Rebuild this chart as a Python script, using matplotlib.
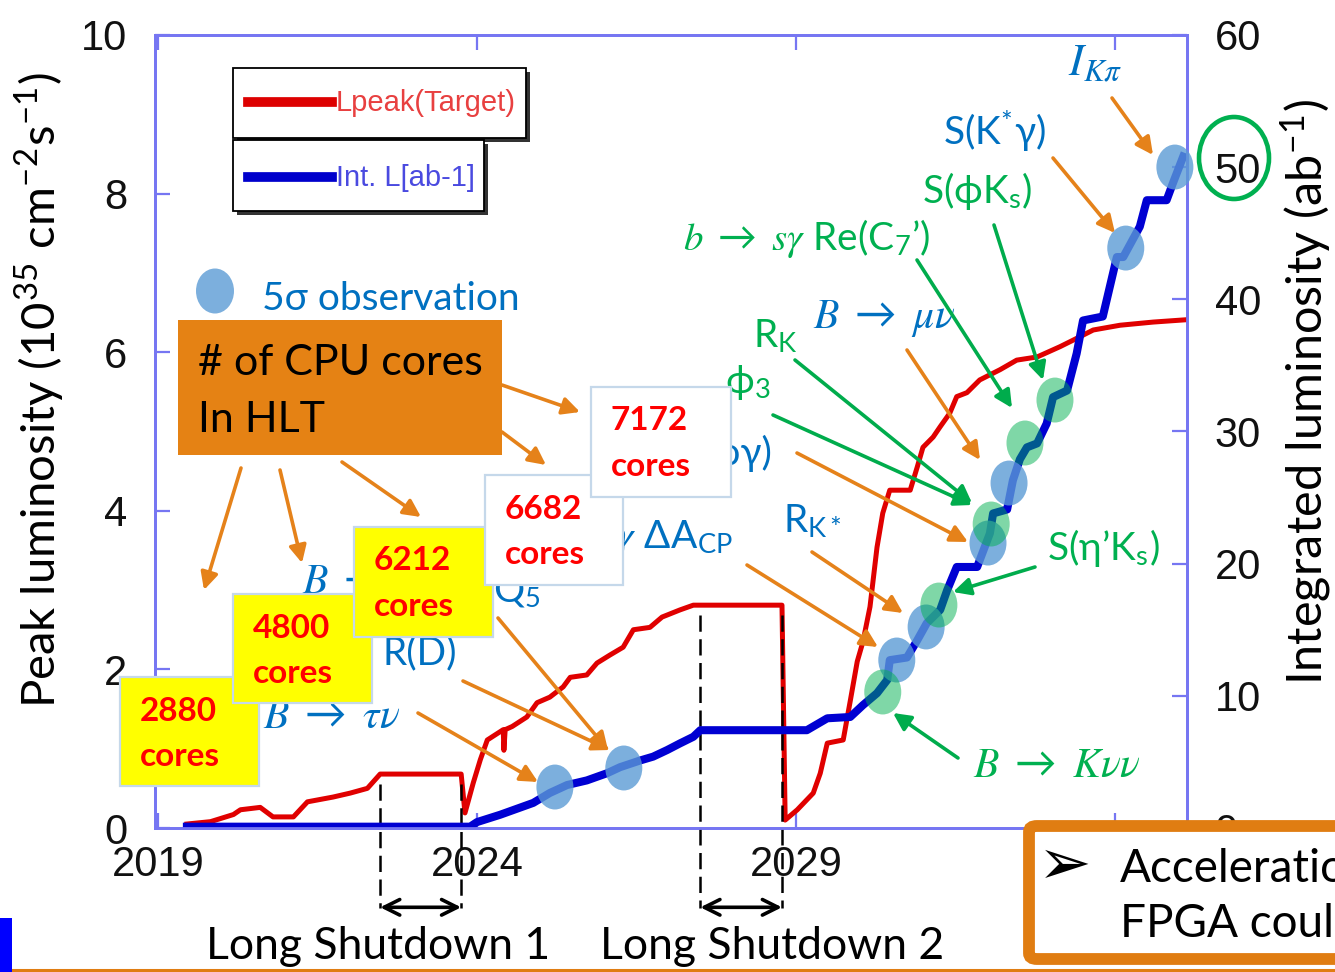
import numpy as np
import matplotlib
matplotlib.use("Agg")
import matplotlib.pyplot as plt
from matplotlib import font_manager
from matplotlib.lines import Line2D
from matplotlib.patches import Rectangle, Ellipse, FancyBboxPatch, FancyArrowPatch

# Peak luminosity target (10^35 cm^-2 s^-1)
peak_year = [2019.45, 2019.82, 2020.18, 2020.29, 2020.60, 2020.80, 2021.12, 2021.34, 2021.74,
             2022.01, 2022.28, 2022.48, 2023.75, 2023.81, 2023.94, 2024.05, 2024.16, 2024.41,
             2024.42, 2024.44, 2024.55, 2024.78, 2024.94, 2025.14, 2025.35, 2025.46, 2025.72,
             2025.88, 2026.08, 2026.29, 2026.45, 2026.71, 2026.90, 2027.18, 2027.39, 2028.78,
             2028.83, 2029.02, 2029.27, 2029.38, 2029.49, 2029.74, 2029.85, 2029.96, 2030.05,
             2030.16, 2030.27, 2030.36, 2030.47, 2030.79, 2030.90, 2030.99, 2031.15, 2031.26,
             2031.41, 2031.52, 2031.68, 2031.88, 2032.20, 2032.46, 2032.78, 2033.14, 2033.34,
             2033.66, 2034.08, 2034.60, 2035.13]
peak_lumi = [0.05, 0.08, 0.17, 0.23, 0.26, 0.14, 0.14, 0.33, 0.39,
             0.44, 0.50, 0.68, 0.68, 0.19, 0.57, 0.86, 1.11, 1.24,
             0.98, 1.24, 1.28, 1.40, 1.58, 1.65, 1.78, 1.90, 1.93,
             2.08, 2.18, 2.28, 2.50, 2.53, 2.66, 2.75, 2.81, 2.81,
             0.10, 0.23, 0.44, 0.69, 1.07, 1.11, 1.60, 2.10, 2.35,
             2.79, 3.54, 3.97, 4.26, 4.26, 4.55, 4.80, 4.93, 5.06,
             5.23, 5.44, 5.49, 5.65, 5.78, 5.90, 5.94, 6.07, 6.15,
             6.28, 6.34, 6.38, 6.41]

# Integrated luminosity (ab^-1)
int_year = [2019.45, 2023.89, 2024.00, 2024.36, 2024.88, 2025.14, 2025.41, 2025.72, 2026.04,
            2026.24, 2026.55, 2026.76, 2026.98, 2027.18, 2027.39, 2027.50, 2029.17, 2029.49,
            2029.85, 2030.05, 2030.27, 2030.43, 2030.47, 2030.74, 2030.90, 2031.05, 2031.26,
            2031.37, 2031.52, 2031.84, 2032.04, 2032.09, 2032.31, 2032.40, 2032.51, 2032.62,
            2032.78, 2032.93, 2033.03, 2033.25, 2033.40, 2033.50, 2033.81, 2034.03, 2034.13,
            2034.39, 2034.50, 2034.81, 2034.91, 2035.07]
int_lumi = [0.1, 0.1, 0.45, 1.0, 1.9, 2.65, 3.25, 3.6, 4.15,
            4.6, 5.1, 5.4, 5.9, 6.4, 6.9, 7.4, 7.4, 8.3,
            8.4, 9.3, 10.2, 11.2, 12.7, 12.9, 14.2, 15.5, 16.5,
            18.0, 19.75, 19.75, 22.3, 23.8, 24.1, 26.3, 27.9, 28.8,
            29.1, 30.6, 32.6, 33.1, 35.9, 38.4, 38.7, 43.2, 43.2,
            45.5, 47.5, 47.5, 48.8, 50.8]

# 5 sigma observations on the integrated luminosity curve
obs_blue_year = [2025.22, 2026.30, 2030.58, 2031.04, 2032.01, 2032.34, 2034.17, 2034.94]
obs_blue_lumi = [3.10, 4.54, 12.71, 15.21, 21.56, 26.10, 43.88, 50.01]
obs_green_year = [2030.36, 2031.24, 2032.06, 2032.59, 2033.06]
obs_green_lumi = [10.29, 16.87, 23.0, 29.13, 32.38]

cpu_cores = [2880, 4800, 6212, 6682, 7172]
year_ticks = [2019, 2024, 2029, 2034]
shutdowns = [(2022.48, 2023.75), (2027.50, 2028.78)]
shutdown_names = ["Long Shutdown 1", "Long Shutdown 2"]

W, H = 1335, 972
ORANGE = "#e5821a"
BLUE_T = "#0070c0"
GREEN_T = "#00b050"
FRAME = "#7676f2"

plt.rcParams["font.family"] = ["Lato", "DejaVu Sans"]
plt.rcParams["mathtext.fontset"] = "custom"
plt.rcParams["mathtext.rm"] = "Lato"
plt.rcParams["mathtext.it"] = "STIXGeneral:italic"
plt.rcParams["mathtext.bf"] = "Lato:bold"
plt.rcParams["mathtext.fallback"] = "stix"

names = {f.name for f in font_manager.fontManager.ttflist}
if "Liberation Sans Narrow" in names:
    tick_font, tick_size, leg_size = "Liberation Sans Narrow", 34, 23
else:
    tick_font, tick_size, leg_size = "Liberation Sans", 30, 21


def fp(x, y):
    return (x / W, 1 - y / H)


fig = plt.figure(figsize=(W / 100, H / 100), dpi=100)


def ftext(x, y, s, **kw):
    return fig.text(x / W, 1 - y / H, s, **kw)


def farrow(x0, y0, x1, y1, color, z=40):
    fig.add_artist(FancyArrowPatch(fp(x0, y0), fp(x1, y1), transform=fig.transFigure,
                                   arrowstyle="-|>", mutation_scale=26, lw=2.6,
                                   color=color, shrinkA=0, shrinkB=0, zorder=z))


def frect(l, t, r, b, **kw):
    p = Rectangle(fp(l, b), (r - l) / W, (b - t) / H, transform=fig.transFigure, **kw)
    fig.add_artist(p)
    return p


ax = fig.add_axes([155 / W, 1 - 828 / H, (1187 - 155) / W, (828 - 35) / H])
ax2 = ax.twinx()

ax.plot(peak_year, peak_lumi, color="#e00000", lw=3.6, zorder=3)
ax2.plot(int_year, int_lumi, color="#0000d2", lw=5.8, zorder=2)

for x, y in zip(obs_blue_year, obs_blue_lumi):
    ax2.add_patch(Ellipse((x, y), 0.58, 3.4, fc="#5b9bd5", ec="none", alpha=0.8,
                          zorder=3, clip_on=False))
for x, y in zip(obs_green_year, obs_green_lumi):
    ax2.add_patch(Ellipse((x, y), 0.58, 3.4, fc="#00b050", ec="none", alpha=0.5,
                          zorder=4, clip_on=False))

ax.set_xlim(2018.95, 2035.13)
ax.set_ylim(0, 10)
ax2.set_ylim(0, 60)
ax.set_xticks(year_ticks)
ax.set_yticks(range(0, 11, 2))
ax2.set_yticks(range(0, 61, 10))

for a in (ax, ax2):
    for s in a.spines.values():
        s.set_color(FRAME)
        s.set_linewidth(2)
ax.tick_params(axis="x", direction="in", top=True, length=11, width=1.6, color=FRAME,
               labelsize=tick_size, pad=12)
ax.tick_params(axis="y", direction="in", length=11, width=1.6, color=FRAME,
               labelsize=tick_size, pad=20)
ax2.tick_params(axis="y", direction="in", length=11, width=1.6, color=FRAME,
                labelsize=tick_size, pad=20)
for lbl in ax.get_xticklabels() + ax.get_yticklabels() + ax2.get_yticklabels():
    lbl.set_fontfamily(tick_font)
    lbl.set_color("#111111")

# long shutdown markers below the axis
for (x0, x1), name, lx in zip(shutdowns, shutdown_names, [378, 772]):
    for x in (x0, x1):
        top = np.interp(x, peak_year, peak_lumi) - 0.12
        ax.plot([x, x], [top, -1.01], color="k", lw=1.8, ls=(0, (6.5, 3)), clip_on=False,
                zorder=5)
    ax.annotate("", xy=(x1, -1.0), xytext=(x0, -1.0), annotation_clip=False,
                arrowprops=dict(arrowstyle="<->", lw=2.6, color="k", shrinkA=0, shrinkB=0,
                                mutation_scale=28))
    ftext(lx, 946, name, ha="center", va="center", fontsize=32, color="k")

# axis titles
ftext(40, 390, r"Peak luminosity (10$^{35}$ cm$^{-2}$s$^{-1}$)", rotation=90,
      ha="center", va="center", fontsize=34, color="k")
ftext(1306, 392, r"Integrated luminosity (ab$^{-1}$)", rotation=90,
      ha="center", va="center", fontsize=35, color="k")

# legend boxes with drop shadow
for (l, t, r, b) in [(233, 68, 526, 138), (233, 140, 484, 211)]:
    frect(l + 4, t + 4, r + 4, b + 4, fc="#333333", ec="none", zorder=10)
    frect(l, t, r, b, fc="white", ec="black", lw=1.3, zorder=11)
fig.add_artist(Line2D([248 / W, 332 / W], [1 - 102 / H] * 2, transform=fig.transFigure,
                      color="#dd0000", lw=7, zorder=12))
fig.add_artist(Line2D([248 / W, 332 / W], [1 - 177 / H] * 2, transform=fig.transFigure,
                      color="#0000cc", lw=7, zorder=12))
ftext(336, 103, "Lpeak(Target)", fontsize=leg_size, color="#e84040", family=tick_font,
      va="center", ha="left", zorder=12)
ftext(336, 178, "Int. L[ab-1]", fontsize=leg_size, color="#4a4ae0", family=tick_font,
      va="center", ha="left", zorder=12)

# 5 sigma key
fig.add_artist(Ellipse(fp(215, 291), 38 / W, 45 / H, transform=fig.transFigure,
                       fc="#5b9bd5", ec="none", alpha=0.8, zorder=12))
ftext(262, 310, "5σ observation", fontsize=28, color=BLUE_T, va="baseline", zorder=12)

# physics labels
lab = dict(va="baseline", zorder=8)
ftext(263, 728, r"$B\ \rightarrow\ \tau\nu$", fontsize=30, color=BLUE_T, **lab)
ftext(383, 664, "R(D)", fontsize=28, color=BLUE_T, **lab)
ftext(302, 593, r"$B\ \rightarrow\ K^{*}\ell\ell$", fontsize=30, color=BLUE_T, **lab)
ftext(493, 601, r"Q$_5$", fontsize=28, color=BLUE_T, **lab)
ftext(733, 548, r"$B\ \rightarrow\ X_s\gamma$ ΔA$_{\rm CP}$", fontsize=28, color=BLUE_T,
      ha="right", **lab)
ftext(773, 465, "S(ργ)", fontsize=28, color=BLUE_T, ha="right", **lab)
ftext(783, 533, r"R$_{\rm K*}$", fontsize=28, color=BLUE_T, **lab)
ftext(813, 328, r"$B\ \rightarrow\ \mu\nu$", fontsize=30, color=BLUE_T, **lab)
ftext(943, 145, r"S(K$^{*}$γ)", fontsize=28, color=BLUE_T, **lab)
ftext(1068, 75, r"$I_{K\pi}$", fontsize=32, color=BLUE_T, **lab)
ftext(725, 393, r"ϕ$_3$", fontsize=28, color=GREEN_T, **lab)
ftext(753, 348, r"R$_{\rm K}$", fontsize=28, color=GREEN_T, **lab)
ftext(683, 250, r"$b\ \rightarrow\ s\gamma$ Re(C$_7$’)", fontsize=28, color=GREEN_T, **lab)
ftext(922, 203, r"S(ϕK$_{\rm s}$)", fontsize=28, color=GREEN_T, **lab)
ftext(1047, 560, r"S(η’K$_{\rm s}$)", fontsize=28, color=GREEN_T, **lab)
ftext(973, 777, r"$B\ \rightarrow\ K\nu\nu$", fontsize=30, color=GREEN_T, **lab)

for a in [(418, 713, 538, 782), (463, 681, 610, 750), (498, 618, 608, 750),
          (747, 565, 878, 647), (812, 552, 903, 613), (797, 453, 968, 542),
          (907, 350, 980, 460), (1053, 158, 1115, 233), (1112, 98, 1153, 155)]:
    farrow(*a, ORANGE, z=9)
for a in [(795, 360, 972, 503), (773, 415, 972, 505), (917, 260, 1012, 408),
          (994, 225, 1043, 380), (1035, 567, 953, 592), (958, 758, 893, 713)]:
    farrow(*a, "#00ac4c", z=9)

# HLT core count boxes
frect(178, 320, 502, 455, fc="#e58214", ec="none", zorder=14)
ftext(198, 375, "# of CPU cores", fontsize=31, color="k", va="baseline", zorder=15)
ftext(198, 432, "In HLT", fontsize=31, color="k", va="baseline", zorder=15)
for a in [(241, 468, 204, 590), (280, 470, 302, 563), (342, 462, 421, 517),
          (502, 432, 546, 465), (502, 385, 580, 412)]:
    farrow(*a, ORANGE, z=15)

core_box = [(120, 677, 259, 786, "#ffff00"), (233, 594, 372, 703, "#ffff00"),
            (354, 527, 493, 637, "#ffff00"), (485, 475, 623, 585, "white"),
            (591, 387, 731, 497, "white")]
for i, (n, (l, t, r, b, fc)) in enumerate(zip(cpu_cores, core_box)):
    frect(l, t, r, b, fc=fc, ec="#c5d8ea", lw=1.6, zorder=20 + 2 * i)
    ftext(l + 20, t + 34, str(n), fontsize=24, fontweight="bold", color="#ff0000",
          va="center", zorder=21 + 2 * i)
    ftext(l + 20, t + 79, "cores", fontsize=24, fontweight="bold", color="#ff0000",
          va="center", zorder=21 + 2 * i)

# ring around the final integrated luminosity tick
fig.add_artist(Ellipse(fp(1234, 158), 70 / W, 82 / H, transform=fig.transFigure,
                       fc="none", ec="#00b050", lw=3.3, zorder=30))

# note box in the lower right corner
fig.add_artist(FancyBboxPatch(fp(1029, 959), 400 / W, 133 / H,
                              boxstyle="round,pad=0,rounding_size=0.006",
                              transform=fig.transFigure, fc="white", ec="#e07d12",
                              lw=8.5, zorder=30))
ftext(1065, 866, "➢", fontsize=46, family="DejaVu Sans", color="k", ha="center",
      va="center", zorder=31)
ftext(1120, 882, "Acceleration", fontsize=33, color="k", va="baseline", zorder=31)
ftext(1120, 937, "FPGA could", fontsize=33, color="k", va="baseline", zorder=31)

# slide decorations
fig.add_artist(Line2D([0, 1], [1 - 970 / H] * 2, transform=fig.transFigure,
                      color="#e07d12", lw=2.2, zorder=30))
frect(0, 918, 12, 972, fc="#0000ff", ec="none", zorder=30)

fig.savefig("out.png", dpi=100)
